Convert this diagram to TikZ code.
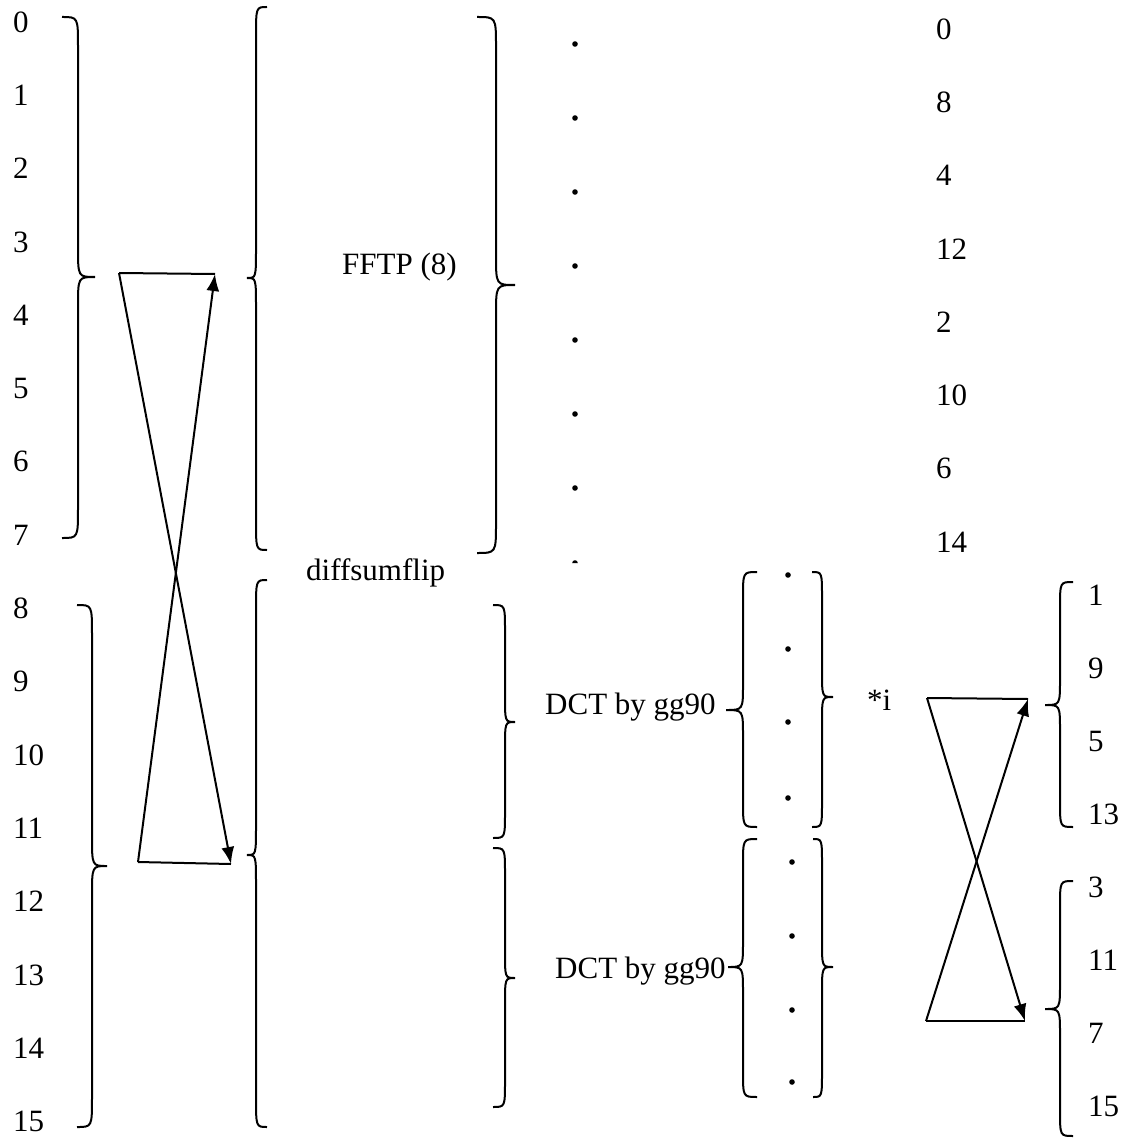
\documentclass[tikz,border=0pt]{standalone}
\usepackage{fontspec}
\setmainfont{Liberation Serif}[Ligatures=CommonOff]
\usetikzlibrary{arrows.meta}
\tikzset{
  every node/.style={font=\fontsize{31}{37}\selectfont, inner sep=0pt},
  lab/.style={anchor=west},
  txt/.style={anchor=base west},
  bracest/.style={line width=2pt},
  conn/.style={line width=2pt},
  arr/.style={line width=2pt, -{Latex[length=17pt,width=13pt]}},
  dotst/.style={fill=black}
}
% xe xm xt ytop ytip ybot r
\newcommand\curlyb[7]{%
  \draw[bracest] (#1,#4) .. controls (#2,#4) .. (#2,#4+#7) -- (#2,#5-#7)
    .. controls (#2,#5) .. (#3,#5) .. controls (#2,#5) .. (#2,#5+#7)
    -- (#2,#6-#7) .. controls (#2,#6) .. (#1,#6);}
\begin{document}
\begin{tikzpicture}[x=1pt,y=-1pt]
\useasboundingbox (0,0) rectangle (1134,1139);
% left column labels
\foreach \t [count=\i from 0] in {0,1,2,3,4,5,6,7,8,9,10,11,12,13,14,15}
  \node[lab] (L\i) at (13, 22+73.3*\i) {\t};
% right top column labels
\foreach \t [count=\i from 0] in {0,8,4,12,2,10,6,14}
  \node[lab] (R\i) at (936, 29+73.3*\i) {\t};
% right bottom groups
\foreach \t [count=\i from 0] in {1,9,5,13}
  \node[lab] (P\i) at (1088, 595+73*\i) {\t};
\foreach \t [count=\i from 0] in {3,11,7,15}
  \node[lab] (Q\i) at (1088, 887+73.3*\i) {\t};
% texts
\node[txt] (fftp) at (342,275) {FFTP (8)};
\node[txt] (dsf) at (306,580) {diffsumflip};
\node[txt] (dct1) at (545,714) {DCT by gg90};
\node[txt] (dct2) at (555,978) {DCT by gg90};
\node[txt] (muli) at (867,710) {*i};
% braces
\curlyb{62}{78}{95}{17}{277}{538}{30}
\curlyb{77}{92}{107}{605}{866}{1127}{30}
\curlyb{267}{256}{247}{7}{278}{550}{30}
\curlyb{267}{256}{247}{580}{855}{1127}{30}
\curlyb{477}{496}{515}{17}{285}{553}{30}
\curlyb{493}{505}{515}{605}{722}{838}{26}
\curlyb{493}{505}{515}{848}{978}{1107}{26}
\curlyb{757}{743}{726}{572}{710}{827}{26}
\curlyb{812}{822}{833}{572}{697}{827}{26}
\curlyb{757}{743}{728}{839}{967}{1097}{26}
\curlyb{813}{822}{833}{839}{967}{1097}{26}
\curlyb{1073}{1060}{1045}{582}{705}{827}{26}
\curlyb{1073}{1060}{1045}{881}{1009}{1136}{26}
% dots
\foreach \k in {0,...,6} \fill[dotst] (575, 44+74*\k) circle (2.8pt);
\fill[dotst] (572.2,563) arc[start angle=180, end angle=0, radius=2.8pt] -- cycle;
\foreach \y in {575,649,722,798} \fill[dotst] (788,\y) circle (2.8pt);
\foreach \y in {862,936,1010,1082} \fill[dotst] (792,\y) circle (2.8pt);
% left cross
\coordinate (aTL) at (119,273);
\coordinate (aTR) at (215,274);
\coordinate (aBL) at (138,862);
\coordinate (aBR) at (231,864);
\draw[conn] (aTL) -- (aTR);
\draw[conn] (aBL) -- (aBR);
\draw[arr] (aBL) -- (aTR);
\draw[arr] (aTL) -- (aBR);
% right cross
\coordinate (bTL) at (927,698);
\coordinate (bTR) at (1028,699);
\coordinate (bBL) at (926,1021);
\coordinate (bBR) at (1025,1021);
\draw[conn] (bTL) -- (bTR);
\draw[conn] (bBL) -- (bBR);
\draw[arr] (bBL) -- (bTR);
\draw[arr] (bTL) -- (bBR);
\end{tikzpicture}
\end{document}
